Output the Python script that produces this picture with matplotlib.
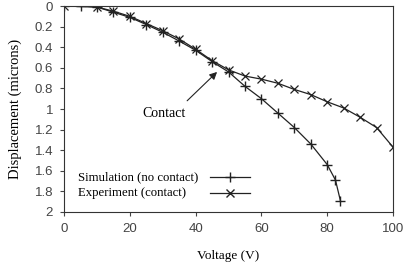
import matplotlib
matplotlib.use("Agg")
from matplotlib import pyplot as plt

sim_v = [0, 5, 10, 15, 20, 25, 30, 35, 40, 45, 50, 55, 60, 65, 70, 75, 80, 82.5, 84]
sim_d = [0, 0, 0.01, 0.06, 0.11, 0.18, 0.255, 0.34, 0.43, 0.54, 0.64, 0.78, 0.90, 1.04, 1.18, 1.34, 1.54, 1.69, 1.89]

exp_v = [0, 10, 15, 20, 25, 30, 35, 40, 45, 50, 55, 60, 65, 70, 75, 80, 85, 90, 95, 100]
exp_d = [0, 0.01, 0.05, 0.10, 0.17, 0.24, 0.32, 0.42, 0.53, 0.62, 0.68, 0.71, 0.75, 0.81, 0.86, 0.93, 0.99, 1.08, 1.18, 1.37]

xticks = [0, 20, 40, 60, 80, 100]
yticks = [0, 0.2, 0.4, 0.6, 0.8, 1, 1.2, 1.4, 1.6, 1.8, 2]
ytick_labels = ['0', '0.2', '0.4', '0.6', '0.8', '1', '1.2', '1.4', '1.6', '1.8', '2']
labels = ['Simulation (no contact)', 'Experiment (contact)']

fig = plt.figure(figsize=(4.06, 2.63), dpi=100)
ax = fig.add_axes([0.158, 0.194, 0.81, 0.783])

ink = '#222222'
ax.plot(sim_v, sim_d, color=ink, lw=0.9, marker='+', ms=7, mew=1.0)
ax.plot(exp_v, exp_d, color=ink, lw=0.9, marker='x', ms=6, mew=0.9)

ax.set_xlim(0, 100)
ax.set_ylim(2, 0)
ax.set_xticks(xticks)
ax.set_yticks(yticks)
ax.set_yticklabels(ytick_labels)
ax.tick_params(labelsize=9.5, colors='#444444', length=3, width=0.8, pad=5)
for lab in ax.get_xticklabels() + ax.get_yticklabels():
    lab.set_family('Liberation Sans')
for s in ax.spines.values():
    s.set_color('#333333')
    s.set_linewidth(0.8)

ax.set_xlabel('Voltage (V)', family='Liberation Serif', fontsize=9.5, labelpad=11)
ax.set_ylabel('Displacement (microns)', family='Liberation Serif', fontsize=10.5, labelpad=9)

# "Contact" label and its arrow
ax.text(30.4, 1.04, 'Contact', ha='center', va='center',
        family='Liberation Serif', fontsize=10)
ax.annotate('', xy=(46.5, 0.64), xytext=(37.4, 0.92),
            arrowprops=dict(arrowstyle='-|>', color=ink, lw=0.8,
                            shrinkA=0, shrinkB=0, mutation_scale=11))

# hand-made legend: text on the left, handle on the right
markers = ['+', 'x']
ms = [7, 6]
for i, lab in enumerate(labels):
    yy = [0.170, 0.092][i]
    ax.text(0.043, yy, lab, transform=ax.transAxes, ha='left', va='center',
            family='Liberation Serif', fontsize=9.2)
    ax.plot([0.444, 0.505, 0.565], [yy] * 3, transform=ax.transAxes, color=ink,
            lw=0.9, marker=markers[i], ms=ms[i], mew=1.0, markevery=[1], clip_on=False)

fig.savefig('out.png', dpi=100)
